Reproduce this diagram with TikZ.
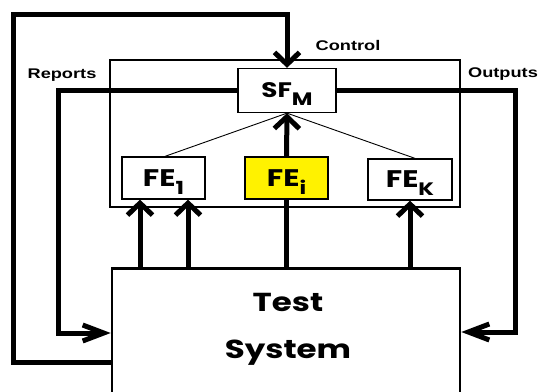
\documentclass[tikz,border=0pt]{standalone}
\usepackage{fontspec}
\setmainfont{Poppins}[FakeStretch=1.25]
\newfontfamily\lblfont{Liberation Sans}[FakeStretch=1.3]
\usetikzlibrary{arrows.meta}
\newcommand{\mysub}[1]{\raisebox{-8pt}[0pt][0pt]{\fontsize{18}{18}\selectfont #1}}
\tikzset{
  elbox/.style={draw, line width=1.3pt, inner sep=0pt, font=\bfseries\fontsize{24}{24}\selectfont},
  heavy/.style={line width=5pt},
  uptip/.style={-{Straight Barb[length=12pt,width=25pt]}},
  sidetip/.style={-{Straight Barb[length=21pt,width=16pt]}},
  lbl/.style={font=\lblfont\bfseries\fontsize{14}{14}\selectfont, inner sep=0pt},
  bigtxt/.style={font=\bfseries\fontsize{26}{26}\selectfont, inner sep=0pt},
  fine/.style={line width=0.9pt}
}
\begin{document}
\begin{tikzpicture}[x=1pt,y=-1pt]
\useasboundingbox (0,0) rectangle (538,391);
\clip (0,0) rectangle (538,391);
% frame
\node[draw, line width=2.4pt, minimum width=350pt, minimum height=147pt, inner sep=0pt] (frame) at (285,133.5) {};
% test system
\node[draw, line width=2.6pt, minimum width=348pt, minimum height=190pt, inner sep=0pt, anchor=north] (ts) at (286,267) {};
\node[bigtxt] (t1) at (288,302) {Test};
\node[bigtxt] (t2) at (288,353) {System};
% element boxes
\node[elbox, fill=white, minimum width=98pt, minimum height=44pt, font=\bfseries\fontsize{21}{21}\selectfont] (sf) at (287,90.5) {SF\mysub{M}};
\node[elbox, minimum width=83pt, minimum height=42pt] (fe1) at (163.5,178) {FE\mysub{1}};
\node[elbox, fill=yellow, minimum width=83pt, minimum height=42pt] (fei) at (286.5,178) {FE\mysub{i}};
\node[elbox, minimum width=84pt, minimum height=41pt] (fek) at (410,179.5) {FE\mysub{K}};
% labels
\node[lbl] (lrep) at (62,75) {Reports};
\node[lbl] (lctl) at (348,45) {Control};
\node[lbl] (lout) at (503,74) {Outputs};
% coordinates
\coordinate (lp1) at (13,362);
\coordinate (lp2) at (13,14);
\coordinate (rp) at (58,333);
\coordinate (op) at (515,332);
% control loop
\draw[heavy, uptip] (lp1 -| ts.west) -- (lp1) -- (lp2) -| (sf.north);
% reports
\draw[heavy, sidetip] (sf.west) -| (rp) -- (rp -| ts.west);
% outputs
\draw[heavy, sidetip] (sf.east) -| (op) -- (op -| ts.east);
% thin links
\draw[fine] (sf.south) -- ([xshift=1.5pt]fe1.north);
\draw[fine] (sf.south) -- ([xshift=5pt]fek.north);
% up arrows
\draw[heavy, uptip] ([xshift=-23.5pt]fe1.south |- ts.north) -- ([xshift=-23.5pt]fe1.south);
\draw[heavy, uptip] ([xshift=24.5pt]fe1.south |- ts.north) -- ([xshift=24.5pt]fe1.south);
\draw[heavy, uptip] (fek.south |- ts.north) -- (fek.south);
\draw[heavy] (fei.south |- ts.north) -- (fei.south);
\draw[heavy, uptip] (fei.north) -- (sf.south);
\end{tikzpicture}
\end{document}
